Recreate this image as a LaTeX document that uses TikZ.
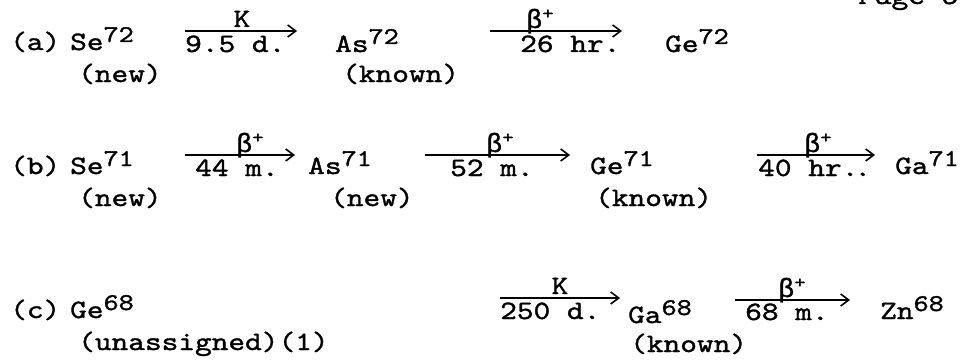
\documentclass[tikz,border=0pt]{standalone}
\usepackage{fontspec}
\setmainfont[FakeBold=1.3,FakeStretch=1.2]{lmmono10-regular.otf}
\newfontfamily\grk[FakeBold=1.1]{Liberation Mono}
\usetikzlibrary{arrows.meta}
\newcommand\isup[1]{\raisebox{8pt}{\fontsize{24}{24}\selectfont #1}}
\newcommand\bplus{{\grk β}\raisebox{9pt}{\fontsize{18}{18}\selectfont +}}
\tikzset{
  tw/.style={inner sep=0pt, anchor=base west, font=\fontsize{26.5}{27}\selectfont},
  lbl/.style={inner sep=0pt, anchor=base, font=\fontsize{26.5}{27}\selectfont},
  decay/.style={line width=1.7pt, -{Straight Barb[length=8pt,width=12pt,line width=1.6pt]}},
}
\begin{document}
\begin{tikzpicture}[x=1pt,y=-1pt]
\useasboundingbox[fill=white] (0,0) rectangle (975,361);
\begin{scope}
\clip (0,0) rectangle (975,361);
\node[tw] (page) at (858,4) {Page 5};
\end{scope}
% Row (a)
\node[tw] (la) at (10,50) {(a)};
\node[tw] (se72) at (70,50) {Se\isup{72}};
\node[tw] (se72n) at (78,82) {(new)};
\coordinate (a1s) at (185,31);
\coordinate (a1e) at (297,31);
\draw[decay] (a1s) -- (a1e);
\node[lbl] (a1t) at (242,27) {K};
\node[tw] (a1b) at (185,52) {9.5 d.};
\node[tw] (as72) at (335,52) {As\isup{72}};
\node[tw] (as72n) at (342,82) {(known)};
\coordinate (a2s) at (490,31);
\coordinate (a2e) at (622,31);
\draw[decay] (a2s) -- (a2e);
\node[lbl] (a2t) at (540,28) {\bplus};
\node[tw] (a2b) at (520,52) {26 hr.};
\node[tw] (ge72) at (665,52) {Ge\isup{72}};
% Row (b)
\node[tw] (lb) at (10,174) {(b)};
\node[tw] (se71) at (70,174) {Se\isup{71}};
\node[tw] (se71n) at (78,206) {(new)};
\coordinate (b1s) at (185,155);
\coordinate (b1e) at (295,155);
\draw[decay] (b1s) -- (b1e);
\node[lbl] (b1t) at (250,152) {\bplus};
\node[tw] (b1b) at (195,176) {44 m.};
\node[tw] (as71) at (308,174) {As\isup{71}};
\node[tw] (as71n) at (330,206) {(new)};
\coordinate (b2s) at (425,155);
\coordinate (b2e) at (570,155);
\draw[decay] (b2s) -- (b2e);
\node[lbl] (b2t) at (500,152) {\bplus};
\node[tw] (b2b) at (450,176) {52 m.};
\node[tw] (ge71) at (590,174) {Ge\isup{71}};
\node[tw] (ge71n) at (595,206) {(known)};
\coordinate (b3s) at (757,155);
\coordinate (b3e) at (875,155);
\draw[decay] (b3s) -- (b3e);
\node[lbl] (b3t) at (818,152) {\bplus};
\node[tw] (b3b) at (758,176) {40 hr.\kern-4pt.};
\node[tw] (ga71) at (895,174) {Ga\isup{71}};
% Row (c)
\node[tw] (lc) at (10,318) {(c)};
\node[tw] (ge68) at (70,318) {Ge\isup{68}};
\node[tw] (ge68n) at (78,350) {(unassigned)(1)};
\coordinate (c1s) at (500,298);
\coordinate (c1e) at (620,298);
\draw[decay] (c1s) -- (c1e);
\node[lbl] (c1t) at (560,294) {K};
\node[tw] (c1b) at (500,319) {250 d.};
\node[tw] (ga68) at (628,323) {Ga\isup{68}};
\node[tw] (ga68n) at (630,352) {(known)};
\coordinate (c2s) at (735,300);
\coordinate (c2e) at (850,300);
\draw[decay] (c2s) -- (c2e);
\node[lbl] (c2t) at (792,297) {\bplus};
\node[tw] (c2b) at (745,320) {68 m.};
\node[tw] (zn68) at (880,319) {Zn\isup{68}};
\end{tikzpicture}
\end{document}
